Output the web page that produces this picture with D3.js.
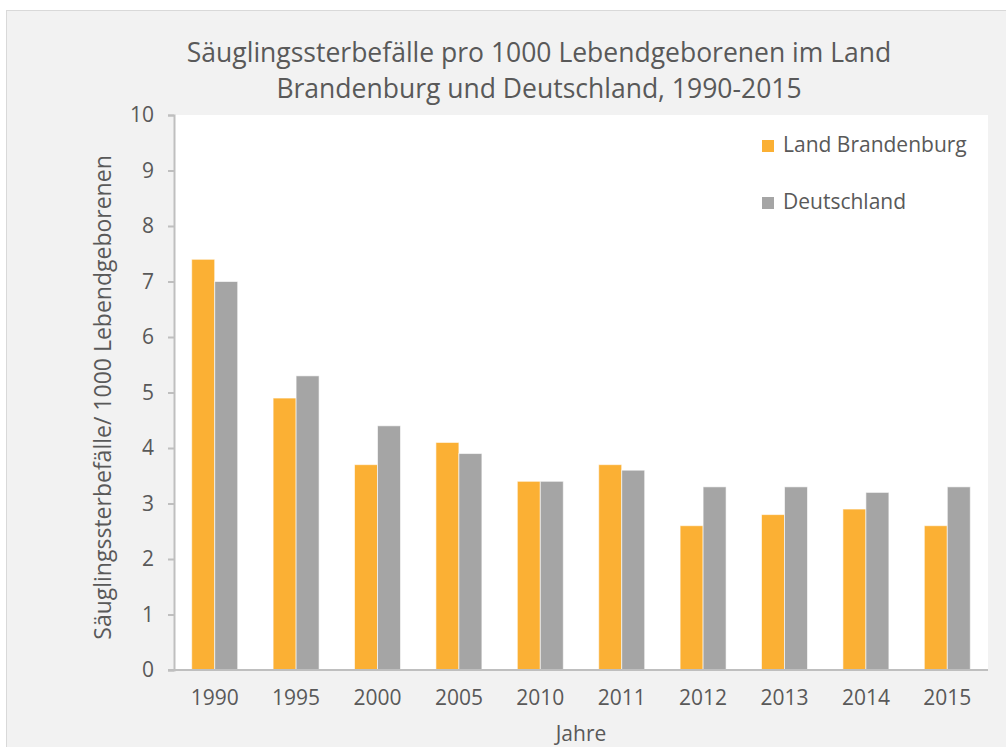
<!DOCTYPE html>
<html>
<head>
<meta charset="utf-8">
<script src="https://cdn.jsdelivr.net/npm/d3@7"></script>
<style>
    body { margin: 0; background: #fff; }
    svg text { font-family: "Open Sans", sans-serif; fill: #595959; }
</style>
</head>
<body>
<div id="graph"></div>
<script>
"use strict";
(function() {
    const years = ["1990", "1995", "2000", "2005", "2010", "2011", "2012", "2013", "2014", "2015"];
    const brandenburg = [7.4, 4.9, 3.7, 4.1, 3.4, 3.7, 2.6, 2.8, 2.9, 2.6];
    const deutschland = [7.0, 5.3, 4.4, 3.9, 3.4, 3.6, 3.3, 3.3, 3.2, 3.3];
    const seriesNames = ["Land Brandenburg", "Deutschland"];
    const yTicks = [0, 1, 2, 3, 4, 5, 6, 7, 8, 9, 10];

    const svgSize = { width: 1006, height: 747 };
    const plot = { left: 174, right: 988, top: 115, bottom: 670 };
    const colors = ["#fbb034", "#a5a5a5"];

    window.addEventListener("load", init);

    function init() {
        let svg = d3.select("#graph")
            .append("svg")
                .attr("width", svgSize.width)
                .attr("height", svgSize.height);

        // chart area background + border
        svg.append("rect")
            .attr("x", 6.5).attr("y", 10.5)
            .attr("width", 1010).attr("height", 760)
            .attr("fill", "#f2f2f2")
            .attr("stroke", "#d9d9d9");

        svg.append("rect")
            .attr("x", plot.left).attr("y", plot.top)
            .attr("width", plot.right - plot.left)
            .attr("height", plot.bottom - plot.top)
            .attr("fill", "#fff");

        let xScale = d3.scaleBand()
            .domain(years)
            .range([plot.left, plot.right])
            .paddingInner(0.435)
            .paddingOuter(0.2175);

        let xSub = d3.scaleBand()
            .domain([0, 1])
            .range([0, xScale.bandwidth()]);

        let yScale = d3.scaleLinear()
            .domain([0, 10])
            .range([plot.bottom, plot.top]);

        // bars
        let rows = years.map((y, i) => ({ year: y, values: [brandenburg[i], deutschland[i]] }));
        let groups = svg.selectAll(".grp")
            .data(rows)
            .enter()
            .append("g")
                .attr("transform", d => "translate(" + xScale(d.year) + ",0)");

        groups.selectAll("rect")
            .data(d => d.values.map((v, k) => ({ k: k, v: v })))
            .enter()
            .append("rect")
                .attr("x", d => xSub(d.k))
                .attr("y", d => yScale(d.v))
                .attr("width", xSub.bandwidth())
                .attr("height", d => plot.bottom - yScale(d.v))
                .attr("fill", d => colors[d.k])
                .attr("stroke", "#ffffff")
                .attr("stroke-opacity", 0.6)
                .attr("stroke-width", 1);

        // y axis
        let yAxis = svg.append("g")
            .attr("transform", "translate(" + plot.left + ",0)")
            .call(d3.axisLeft(yScale).tickValues(yTicks).tickSize(6).tickPadding(14));
        yAxis.select(".domain").attr("stroke", "#bfbfbf").attr("stroke-width", 2);
        yAxis.selectAll(".tick line").attr("stroke", "#bfbfbf").attr("stroke-width", 2);
        yAxis.selectAll(".tick text")
            .style("font-size", "21px")
            .attr("fill", "#595959");

        // x axis
        let xAxis = svg.append("g")
            .attr("transform", "translate(0," + plot.bottom + ")")
            .call(d3.axisBottom(xScale).tickSize(0).tickPadding(20));
        xAxis.select(".domain").attr("stroke", "#bfbfbf").attr("stroke-width", 2)
            .attr("d", "M" + (plot.left - 6) + ",0H" + plot.right);
        xAxis.selectAll(".tick text")
            .style("font-size", "21px")
            .attr("fill", "#595959");

        // axis titles
        svg.append("text")
            .attr("x", (plot.left + plot.right) / 2)
            .attr("y", 741)
            .attr("text-anchor", "middle")
            .style("font-size", "21px")
            .text("Jahre");

        svg.append("text")
            .attr("transform", "translate(111," + ((plot.top + plot.bottom) / 2 + 5) + ") rotate(-90)")
            .attr("text-anchor", "middle")
            .style("font-size", "23px")
            .text("Säuglingssterbefälle/ 1000 Lebendgeborenen");

        // title
        let title = svg.append("text")
            .attr("text-anchor", "middle")
            .style("font-size", "26.5px");
        title.append("tspan").attr("x", 539).attr("y", 62)
            .text("Säuglingssterbefälle pro 1000 Lebendgeborenen im Land");
        title.append("tspan").attr("x", 539).attr("y", 98)
            .text("Brandenburg und Deutschland, 1990-2015");

        // legend
        let legend = svg.selectAll(".legend")
            .data(seriesNames)
            .enter()
            .append("g")
                .attr("transform", (d, i) => "translate(762," + (140 + i * 57) + ")");
        legend.append("rect")
            .attr("width", 12).attr("height", 12)
            .attr("fill", (d, i) => colors[i]);
        legend.append("text")
            .attr("x", 21).attr("y", 12)
            .style("font-size", "21px")
            .text(d => d);
    }
})();
</script>
</body>
</html>
